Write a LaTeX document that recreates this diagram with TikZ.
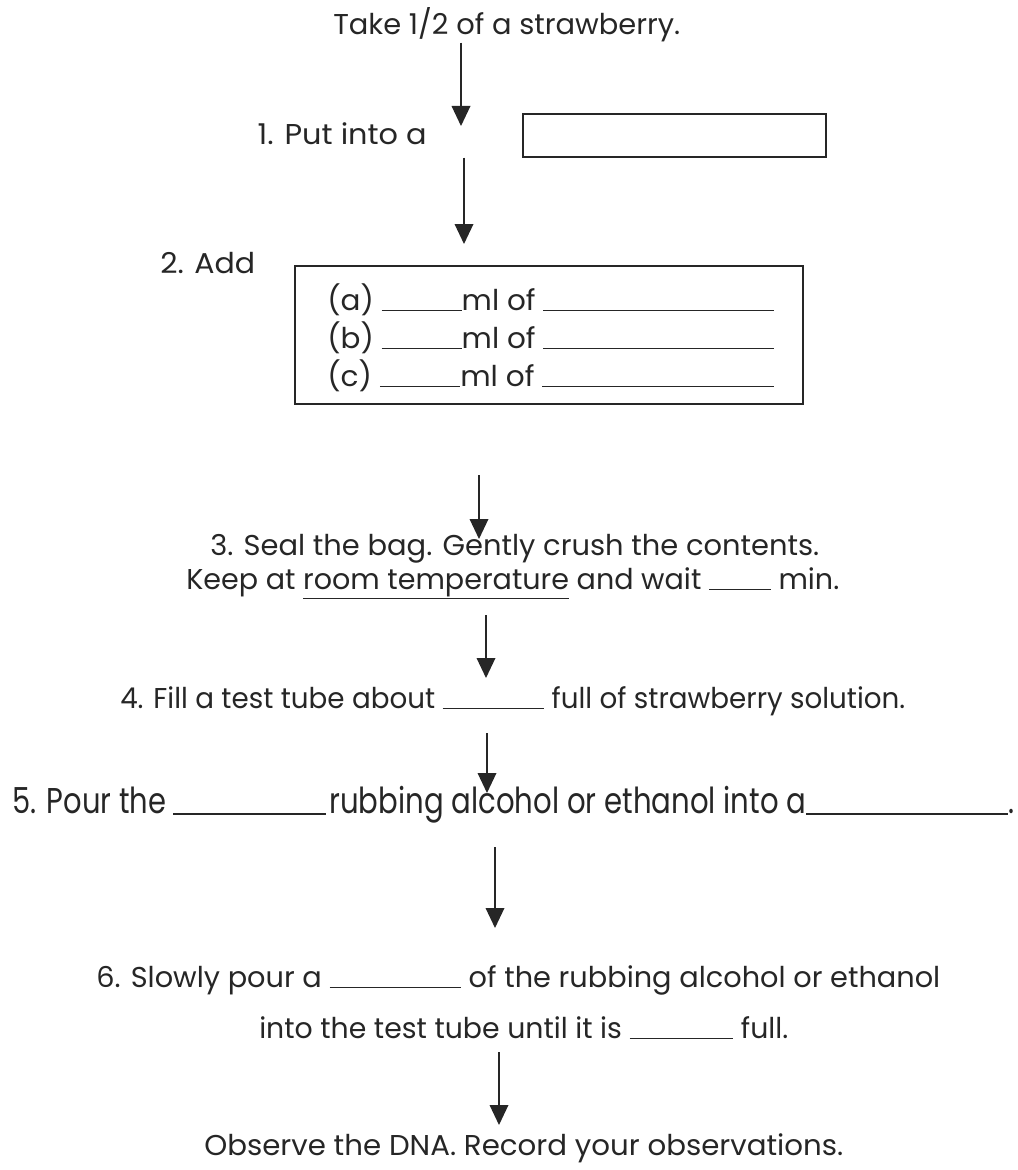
\documentclass[tikz,border=0pt]{standalone}
\usepackage{fontspec}
\setmainfont{Poppins}
\usetikzlibrary{arrows.meta}
\definecolor{ink}{gray}{0.15}
\newlength{\px}\setlength{\px}{0.75pt}
\newcommand{\fillin}[1]{\rule[-0.9pt]{#1\px}{0.9pt}}
\newcommand{\fitw}[2]{\resizebox{#1\px}{\height}{#2}}
\tikzset{
  txt/.style={anchor=base west, inner sep=0pt, text=ink, font=\fontsize{21.5}{26}\selectfont},
  frame/.style={draw=ink, line width=1.3pt, inner sep=0pt},
  flow/.style={draw=ink, line width=1pt, -{Triangle[width=14pt,length=15pt]}},
}
\begin{document}
\begin{tikzpicture}[x=0.75pt,y=-0.75pt]
\useasboundingbox (0,0) rectangle (1017,1170);

\node[txt] (take) at (333,35) {\fitw{347}{Take 1/2 of a strawberry.}};
\node[txt,anchor=base east] (put) at (427,145) {\fitw{169}{1. Put into a}};
\node[frame,minimum width=227pt,minimum height=32pt] (bag) at (674.5,135.5) {};

\node[txt] (add) at (160,273) {\fitw{95}{2. Add}};
\node[frame,minimum width=381pt,minimum height=103.5pt] (mix) at (549,335) {};
\node[txt] (rowa) at (327,310) {\fitw{447}{(a) \fillin{78}ml of \fillin{225}}};
\node[txt] (rowb) at (327,348) {\fitw{447}{(b) \fillin{78}ml of \fillin{225}}};
\node[txt] (rowc) at (327,386) {\fitw{447}{(c) \fillin{78}ml of \fillin{225}}};

\node[txt] (seal) at (210,555) {\fitw{609}{3. Seal the bag. Gently crush the contents.}};
\node[txt] (keep) at (186,589) {\fitw{653}{Keep at \underline{room temperature} and wait \fillin{62} min.}};

\node[txt] (fill) at (120,708) {\fitw{785}{4. Fill a test tube about \fillin{105} full of strawberry solution.}};

% this line is printed taller than the others
\node[txt] (pour) at (12,813) {\scalebox{1}[1.25]{\fitw{154}{5. Pour the}\hspace{7\px}\fillin{153}\hspace{3\px}\fitw{477}{rubbing alcohol or ethanol into a}\fillin{202}.}};

\node[txt] (slow) at (96,987) {\fitw{844}{6. Slowly pour a \fillin{131} of the rubbing alcohol or ethanol}};
\node[txt] (into) at (259,1038) {\fitw{529}{into the test tube until it is \fillin{105} full.}};

\node[txt] (obs) at (204,1155) {\fitw{639}{Observe the DNA. Record your observations.}};

% arrow tips
\coordinate (a1) at (461,126);
\coordinate (a2) at (464,244);
\coordinate (a3s) at (479,475);
\coordinate (a3) at (479,539);
\coordinate (a4s) at (486,615);
\coordinate (a4) at (486,678);
\coordinate (a5s) at (487,733);
\coordinate (a5) at (487,793);
\coordinate (a6s) at (495,847);
\coordinate (a6) at (495,928);
\coordinate (a7s) at (499,1052);
\coordinate (a7) at (499,1125);

\draw[flow] (a1 |- take.south) -- (a1);
\draw[flow] (a2 |- bag.south) -- (a2);
\draw[flow] (a3s) -- (a3);
\draw[flow] (a4s) -- (a4);
\draw[flow] (a5s) -- (a5);
\draw[flow] (a6s) -- (a6);
\draw[flow] (a7s) -- (a7);
\end{tikzpicture}
\end{document}
